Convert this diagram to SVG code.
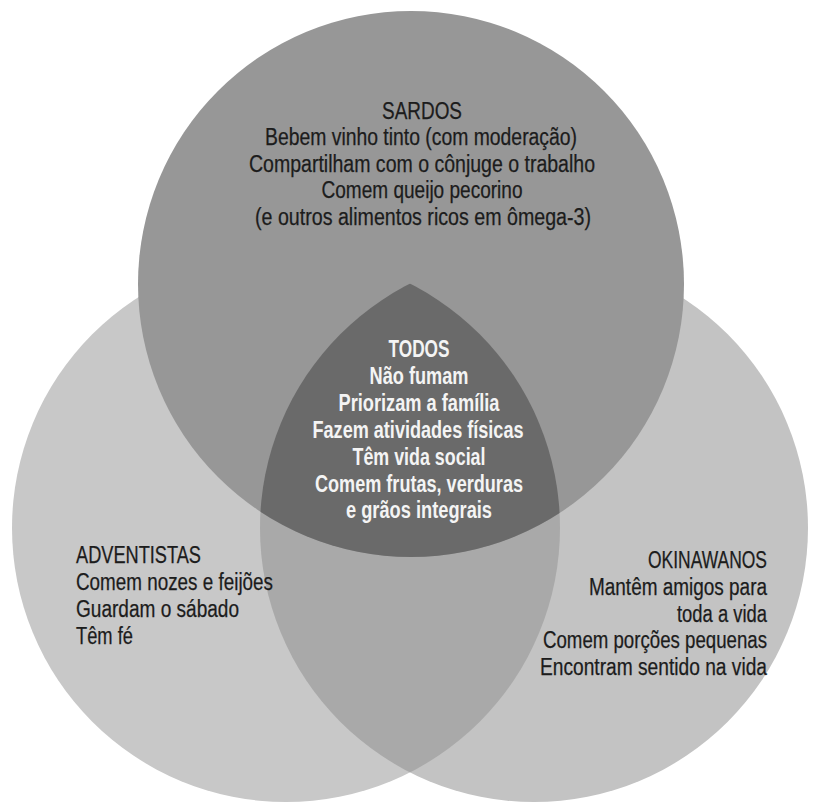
<svg xmlns="http://www.w3.org/2000/svg" width="813" height="804" viewBox="0 0 813 804">
<style>
.t{font-family:"Liberation Sans Narrow","Liberation Sans",Arial,sans-serif;font-size:23px;fill:#1c1c1c;stroke:#1c1c1c;stroke-width:0.25px}
.w{font-family:"Liberation Sans Narrow","Liberation Sans",Arial,sans-serif;font-size:23px;fill:#f4f4f4;font-weight:bold}
.c{text-anchor:middle}
.r{text-anchor:end}
</style>
<defs>
<clipPath id="clipL"><circle cx="286" cy="528" r="274"/></clipPath>
<clipPath id="clipR"><circle cx="534" cy="528" r="274"/></clipPath>
</defs>
<rect width="813" height="804" fill="#ffffff"/>
<g id="shapes">
<circle cx="286" cy="528" r="274" fill="#c8c8c8"/>
<circle cx="534" cy="528" r="274" fill="#c3c3c3"/>
<circle cx="534" cy="528" r="274" fill="#a9a9a9" clip-path="url(#clipL)"/>
<circle cx="411" cy="284" r="273" fill="#979797"/>
<g clip-path="url(#clipL)"><circle cx="411" cy="284" r="273" fill="#6a6a6a" clip-path="url(#clipR)"/></g>
</g>
<g id="connectors"/>
<g id="sardos">
<text class="t c" x="422" y="119" textLength="80" lengthAdjust="spacingAndGlyphs">SARDOS</text>
<text class="t c" x="421" y="145" textLength="312" lengthAdjust="spacingAndGlyphs">Bebem vinho tinto (com moderação)</text>
<text class="t c" x="422" y="172" textLength="346" lengthAdjust="spacingAndGlyphs">Compartilham com o cônjuge o trabalho</text>
<text class="t c" x="422" y="198" textLength="201" lengthAdjust="spacingAndGlyphs">Comem queijo pecorino</text>
<text class="t c" x="423" y="225" textLength="336" lengthAdjust="spacingAndGlyphs">(e outros alimentos ricos em ômega-3)</text>
</g>
<g id="todos">
<text class="w c" x="419" y="357" textLength="61" lengthAdjust="spacingAndGlyphs">TODOS</text>
<text class="w c" x="419" y="384" textLength="99" lengthAdjust="spacingAndGlyphs">Não fumam</text>
<text class="w c" x="419" y="411" textLength="161" lengthAdjust="spacingAndGlyphs">Priorizam a família</text>
<text class="w c" x="418" y="438" textLength="211" lengthAdjust="spacingAndGlyphs">Fazem atividades físicas</text>
<text class="w c" x="419" y="465" textLength="133" lengthAdjust="spacingAndGlyphs">Têm vida social</text>
<text class="w c" x="419" y="492" textLength="208" lengthAdjust="spacingAndGlyphs">Comem frutas, verduras</text>
<text class="w c" x="419" y="518" textLength="146" lengthAdjust="spacingAndGlyphs">e grãos integrais</text>
</g>
<g id="adventistas">
<text class="t" x="76" y="563" textLength="125" lengthAdjust="spacingAndGlyphs">ADVENTISTAS</text>
<text class="t" x="76" y="590" textLength="197" lengthAdjust="spacingAndGlyphs">Comem nozes e feijões</text>
<text class="t" x="76" y="617" textLength="163" lengthAdjust="spacingAndGlyphs">Guardam o sábado</text>
<text class="t" x="76" y="644" textLength="57" lengthAdjust="spacingAndGlyphs">Têm fé</text>
</g>
<g id="okinawanos">
<text class="t r" x="767" y="568" textLength="119" lengthAdjust="spacingAndGlyphs">OKINAWANOS</text>
<text class="t r" x="767" y="595" textLength="178" lengthAdjust="spacingAndGlyphs">Mantêm amigos para</text>
<text class="t r" x="767" y="622" textLength="90" lengthAdjust="spacingAndGlyphs">toda a vida</text>
<text class="t r" x="767" y="648" textLength="224" lengthAdjust="spacingAndGlyphs">Comem porções pequenas</text>
<text class="t r" x="767" y="675" textLength="227" lengthAdjust="spacingAndGlyphs">Encontram sentido na vida</text>
</g>
</svg>
